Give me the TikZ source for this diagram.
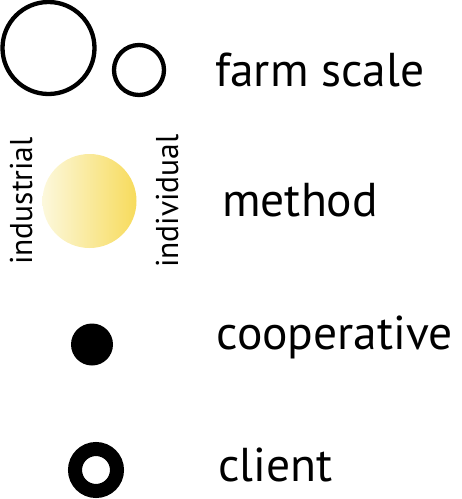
\documentclass[tikz,border=0pt]{standalone}
\usepackage{fontspec}
\setmainfont{PT Sans}
\usepackage{xcolor}
\definecolor{palegold}{HTML}{FCF8DC}
\definecolor{deepgold}{HTML}{F7DB5C}
\tikzset{
	label/.style={anchor=base west, inner sep=0pt, font=\fontsize{47.5}{57}\selectfont},
	sidelabel/.style={anchor=base west, inner sep=0pt, rotate=90, font=\fontsize{31.5}{38}\selectfont},
	ring/.style={draw=black, line width=4.3pt}
}

\begin{document}
\begin{tikzpicture}[x=1pt, y=-1pt]
\useasboundingbox (0, 0) rectangle (462, 499);
% Farm scale
\draw[ring] (48.5, 48) circle (46);
\draw[ring] (139, 70) circle (25);
\node[label] (farmscale) at (215, 86.7) {farm scale};
% Method
\shade[left color=palegold, right color=deepgold] (89.5, 201) circle (47);
\node[sidelabel] (industrial) at (32, 265) {industrial};
\node[sidelabel] (individual) at (178, 268) {individual};
\node[label] (method) at (222, 216.7) {method};
% Cooperative
\fill (92, 344.5) circle (21);
\node[label] (cooperative) at (216.5, 349) {cooperative};
% Client
\draw[line width=14pt] (96, 470) circle (21);
\node[label] (client) at (218, 481.7) {client};
\end{tikzpicture}
\end{document}
